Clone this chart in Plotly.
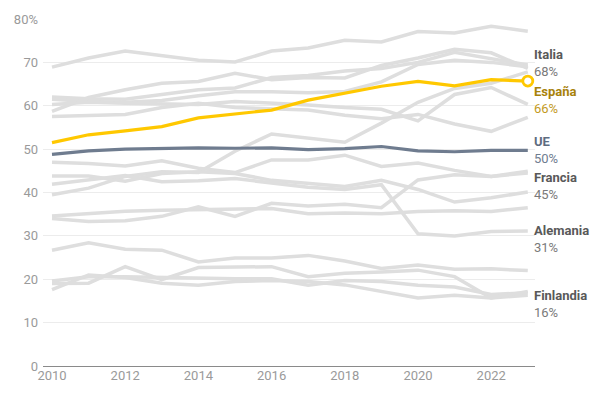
import plotly.graph_objects as go

years = list(range(2010, 2024))

# Gray background series (other countries)
gray_series = {
    "G1": [68.9, 71.0, 72.6, 71.5, 70.5, 70.1, 72.6, 73.3, 75.1, 74.7, 77.1, 76.8, 78.3, 77.2],
    "G2": [58.7, 61.9, 63.7, 65.2, 65.6, 67.5, 66.0, 66.5, 66.4, 69.3, 71.0, 73.0, 72.2, 68.6],
    "G3": [62.0, 61.6, 61.5, 62.6, 63.7, 64.1, 66.5, 67.0, 68.0, 68.6, 70.0, 72.3, 70.8, 69.4],
    "G4": [61.5, 61.0, 60.8, 61.2, 62.3, 63.2, 63.2, 63.0, 63.3, 65.5, 69.5, 70.5, 70.0, 69.0],
    "G5": [57.5, 57.7, 58.0, 59.6, 60.6, 59.6, 59.3, 59.0, 57.8, 57.0, 58.0, 55.8, 54.1, 57.3],
    "G6": [60.3, 60.8, 60.6, 60.4, 60.3, 61.0, 60.7, 60.2, 59.6, 59.2, 56.5, 62.6, 64.2, 60.3],
    "Italia": [39.5, 41.0, 43.7, 44.8, 44.6, 49.5, 53.5, 52.6, 51.6, 56.0, 60.8, 64.0, 65.2, 67.8],
    "Francia": [47.0, 46.7, 46.1, 47.3, 45.6, 44.6, 47.5, 47.5, 48.6, 46.0, 46.8, 45.1, 43.7, 44.9],
    "G7": [43.8, 43.8, 42.6, 44.4, 44.8, 44.4, 42.8, 42.2, 41.4, 42.8, 40.7, 37.8, 38.8, 40.1],
    "Alemania": [41.9, 42.8, 43.9, 42.5, 42.7, 43.2, 42.3, 41.2, 40.7, 41.8, 30.5, 30.0, 31.0, 31.1],
    "G8": [34.6, 35.1, 35.7, 35.9, 36.1, 36.1, 36.3, 35.1, 35.3, 35.1, 35.6, 35.8, 35.6, 36.5],
    "G9": [34.0, 33.3, 33.5, 34.5, 36.7, 34.5, 37.5, 36.9, 37.3, 36.5, 42.9, 44.1, 43.7, 44.5],
    "G10": [26.7, 28.4, 26.9, 26.7, 24.0, 24.9, 24.9, 25.5, 24.2, 22.5, 23.3, 22.3, 22.4, 22.0],
    "Finlandia": [19.0, 19.1, 22.9, 19.9, 22.7, 22.9, 22.9, 20.6, 21.4, 21.7, 22.1, 20.6, 15.7, 16.3],
    "G11": [19.6, 20.6, 20.6, 20.4, 20.3, 20.1, 20.1, 18.6, 19.7, 19.5, 18.6, 18.2, 16.5, 16.9],
    "G12": [17.6, 21.0, 20.4, 19.1, 18.6, 19.5, 19.7, 19.5, 18.7, 17.2, 15.7, 16.3, 15.7, 17.2],
}

espana = [51.5, 53.3, 54.2, 55.2, 57.2, 58.1, 59.0, 61.3, 62.9, 64.5, 65.6, 64.6, 66.0, 65.7]
ue = [48.8, 49.6, 50.0, 50.2, 50.3, 50.2, 50.3, 49.9, 50.1, 50.6, 49.6, 49.4, 49.7, 49.7]

y_ticks = [0, 10, 20, 30, 40, 50, 60, 70, 80]
y_tick_text = ["0", "10", "20", "30", "40", "50", "60", "70", "80%"]
x_ticks = [2010, 2012, 2014, 2016, 2018, 2020, 2022]

# End labels: (name, value text, label-center value, name colour, value colour)
labels = [
    ("Italia", "68%", 69.9, "#595959", "#7a7a7a"),
    ("España", "66%", 61.4, "#a8820a", "#c39a1e"),
    ("UE", "50%", 49.8, "#5e6c80", "#6f7d90"),
    ("Francia", "45%", 41.4, "#595959", "#7a7a7a"),
    ("Alemania", "31%", 29.2, "#595959", "#7a7a7a"),
    ("Finlandia", "16%", 14.3, "#595959", "#7a7a7a"),
]

GRAY = "#dedede"
GOLD = "#ffc800"
SLATE = "#6f7c8f"
FONT = "Roboto"

fig = go.Figure()

for name, vals in gray_series.items():
    fig.add_trace(go.Scatter(x=years, y=vals, mode="lines", name=name,
                             line=dict(color=GRAY, width=3.5),
                             hoverinfo="skip", showlegend=False))

fig.add_trace(go.Scatter(x=years, y=ue, mode="lines", name="UE",
                         line=dict(color=SLATE, width=3.2), showlegend=False))
fig.add_trace(go.Scatter(x=years, y=espana, mode="lines", name="España",
                         line=dict(color=GOLD, width=3.2), showlegend=False))
fig.add_trace(go.Scatter(x=[years[-1]], y=[espana[-1]], mode="markers",
                         marker=dict(size=10, color="white",
                                     line=dict(color=GOLD, width=2.8)),
                         showlegend=False, hoverinfo="skip"))

for name, pct, ypos, c1, c2 in labels:
    fig.add_annotation(
        x=1, xref="paper", y=ypos, yref="y",
        xanchor="left", yanchor="middle", xshift=-3,
        text=f"<b>{name}</b><br><span style='color:{c2}'>{pct}</span>",
        showarrow=False, align="left",
        font=dict(family=FONT, size=13, color=c1),
    )

fig.update_layout(
    width=600, height=396,
    margin=dict(l=43, r=65, t=14, b=30),
    paper_bgcolor="white", plot_bgcolor="white",
    font=dict(family=FONT, color="#9a9a9a", size=13),
    xaxis=dict(range=[2009.754, 2023.197], tickvals=x_ticks,
               showgrid=False, zeroline=False, showline=False,
               ticks="", tickfont=dict(size=13, color="#9a9a9a")),
    yaxis=dict(range=[0, 80], tickvals=y_ticks, ticktext=y_tick_text,
               showgrid=True, gridcolor="#ececec", gridwidth=1,
               zeroline=True, zerolinecolor="#8a8a8a", zerolinewidth=1.2,
               showline=False, ticks="", ticklabelstandoff=4,
               tickfont=dict(size=13, color="#9a9a9a")),
)

fig.write_html("out.html",
               config={"displayModeBar": False},
               post_script="document.body.style.margin='0';document.body.style.overflow='hidden';")
